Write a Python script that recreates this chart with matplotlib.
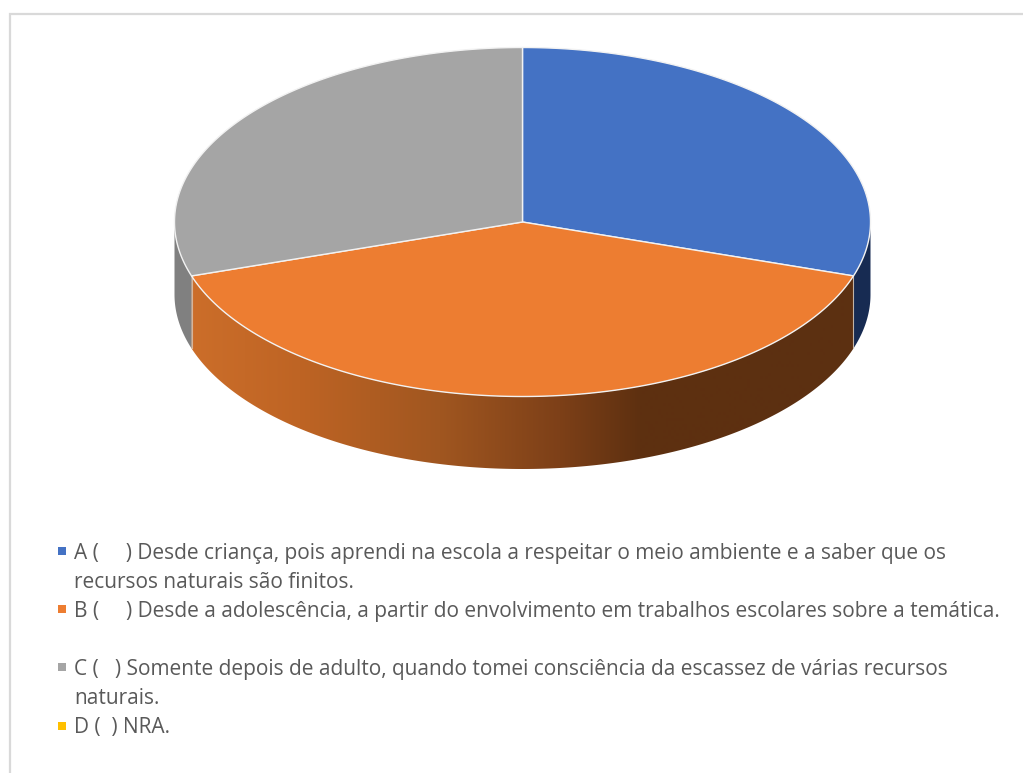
import numpy as np
import matplotlib
matplotlib.use("Agg")
import matplotlib.pyplot as plt
from matplotlib.patches import Polygon, Rectangle
from matplotlib.colors import to_rgb

categories = ["A", "B", "C", "D"]
values = [30, 40, 30, 0]
top_colors = ["#4472C4", "#ED7D31", "#A5A5A5", "#FFC000"]
legend_lines = [
    ("#4472C4", ["A (     ) Desde criança, pois aprendi na escola a respeitar o meio ambiente e a saber que os",
                 "recursos naturais são finitos."]),
    ("#ED7D31", ["B (     ) Desde a adolescência, a partir do envolvimento em trabalhos escolares sobre a temática."]),
    ("#A5A5A5", ["C (   ) Somente depois de adulto, quando tomei consciência da escassez de várias recursos",
                 "naturais."]),
    ("#FFC000", ["D (  ) NRA."]),
]
legend_y = [551, 609, 667, 726]

W, H = 1023, 773
CX, CY, RX, RY, DEPTH = 522.5, 222, 348, 174.5, 72.5

fig = plt.figure(figsize=(W / 100, H / 100), dpi=100)
ax = fig.add_axes([0, 0, 1, 1])
ax.axis("off")

# frame
ax.plot([9.5, 9.5, W + 2], [H + 2, 13.5, 13.5], color="#D9D9D9", lw=1.6, solid_joinstyle="miter")

def pt(theta, dy=0.0):
    return CX + RX * np.sin(theta), CY - RY * np.cos(theta) + dy

grad_x = np.array([190, 300, 440, 560, 640, 860])
grad_c = np.array([[204, 110, 42], [190, 100, 36], [160, 86, 32], [125, 64, 24], [94, 48, 16], [92, 48, 18]]) / 255
flat_side = {"A": (0.09, 0.17, 0.32), "C": (0.50, 0.50, 0.50), "D": to_rgb("#7F6000")}

edges = np.deg2rad(np.cumsum([0] + values) * 360 / sum(values))

# side walls (only the front half of the ellipse is visible)
for i, name in enumerate(categories):
    a, b = edges[i], edges[i + 1]
    lo, hi = max(a, np.pi / 2), min(b, 3 * np.pi / 2)
    if hi <= lo:
        continue
    t = np.linspace(lo, hi, 300)
    xs, ys = pt(t)
    verts = list(zip(xs, ys)) + list(zip(xs[::-1], ys[::-1] + DEPTH))
    if name == "B":
        gx = np.arange(grad_x[0], grad_x[-1] + 1)
        img = np.stack([np.interp(gx, grad_x, grad_c[:, k]) for k in range(3)], axis=1)[None, :, :]
        im = ax.imshow(img, extent=(gx[0], gx[-1], H, 0), aspect="auto",
                       interpolation="bilinear", zorder=2)
        clip = Polygon(verts, closed=True, transform=ax.transData, fc="none", ec="none")
        ax.add_patch(clip)
        im.set_clip_path(clip)
    else:
        ax.add_patch(Polygon(verts, closed=True, fc=flat_side[name], ec="none", zorder=2))

# seams between side walls
for e in edges[1:3]:
    x, y = pt(e)
    ax.plot([x, x], [y, y + DEPTH], color="#D8C8B8", lw=0.8, alpha=0.8, zorder=3)

# top faces
for i, name in enumerate(categories):
    a, b = edges[i], edges[i + 1]
    if b <= a:
        continue
    t = np.linspace(a, b, 300)
    xs, ys = pt(t)
    verts = [(CX, CY)] + list(zip(xs, ys))
    ax.add_patch(Polygon(verts, closed=True, fc=top_colors[i], ec="#F2F2F2",
                         lw=1.0, joinstyle="round", zorder=4))

# legend
for (color, lines), y0 in zip(legend_lines, legend_y):
    ax.add_patch(Rectangle((58, y0 - 4), 7.7, 7.7, fc=color, ec="none", zorder=5))
    for j, line in enumerate(lines):
        ax.text(74, y0 + 7.5 + j * 29.7, line, fontsize=15, color="#595959",
                va="baseline", ha="left", family=["Open Sans", "DejaVu Sans"], zorder=5)

ax.set_xlim(0, W)
ax.set_ylim(H, 0)
fig.savefig("out.png", dpi=100, facecolor="white")
